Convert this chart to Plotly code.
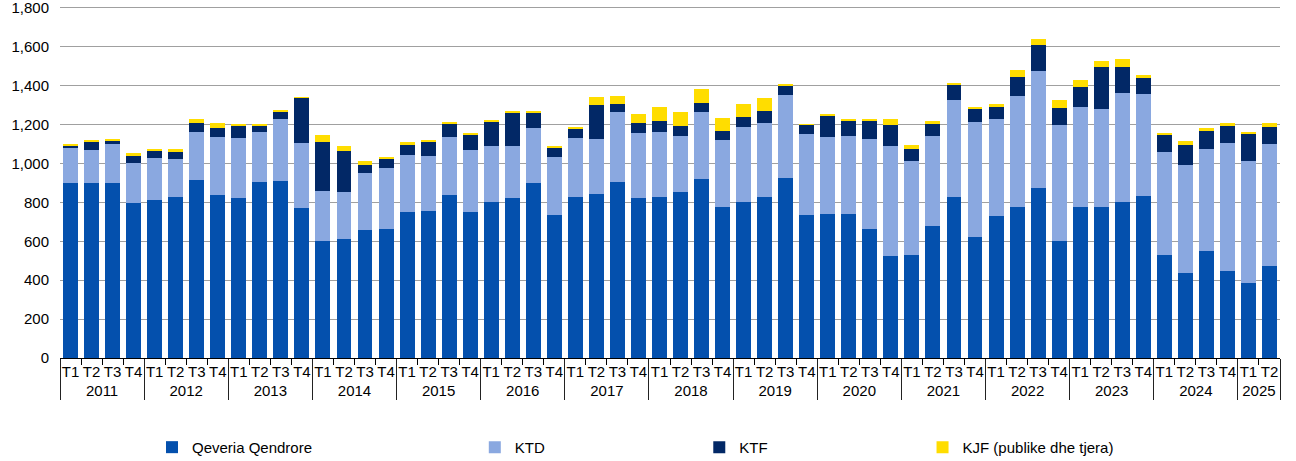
import plotly.graph_objects as go

years = [str(y) for y in range(2011, 2026)]
quarters = ["T1", "T2", "T3", "T4"]

x_years = []
x_quarters = []
for y in years:
    for q in quarters:
        if y == "2025" and q in ("T3", "T4"):
            continue
        x_years.append(y)
        x_quarters.append(q)

qeveria_qendrore = [902, 902, 902, 795, 815, 826, 916, 836, 821, 906, 911, 771,
                    603, 610, 658, 662, 750, 756, 838, 750, 800, 821, 902, 733,
                    829, 843, 906, 824, 829, 855, 923, 778, 803, 829, 928, 733,
                    738, 738, 665, 523, 528, 680, 827, 624, 730, 779, 872, 603,
                    778, 778, 800, 832, 528, 438, 550, 446, 386, 472]
ktd = [180, 170, 199, 208, 214, 198, 245, 302, 311, 255, 318, 332,
       257, 245, 292, 317, 296, 283, 297, 318, 291, 270, 279, 299,
       304, 283, 359, 333, 335, 289, 342, 345, 387, 380, 426, 417,
       397, 404, 460, 568, 486, 460, 498, 590, 501, 568, 602, 594,
       513, 501, 561, 525, 532, 555, 527, 658, 628, 627]
ktf = [12, 43, 17, 38, 34, 36, 48, 47, 65, 36, 41, 234,
       251, 210, 40, 42, 51, 74, 70, 81, 124, 171, 81, 50,
       46, 177, 43, 52, 57, 51, 48, 46, 51, 63, 48, 52,
       111, 79, 97, 109, 63, 65, 80, 66, 61, 97, 133, 90,
       104, 218, 133, 84, 85, 104, 92, 91, 140, 91]
kjf = [5, 5, 3, 14, 14, 17, 20, 22, 2, 5, 5, 5,
       34, 26, 24, 13, 14, 3, 4, 3, 4, 10, 10, 7,
       6, 39, 39, 46, 70, 68, 68, 65, 65, 65, 3, 1,
       4, 8, 2, 29, 19, 14, 10, 11, 12, 36, 34, 39,
       36, 28, 43, 14, 12, 21, 14, 14, 10, 19]

series_names = ["Qeveria Qendrore", "KTD", "KTF", "KJF (publike dhe tjera)"]
series_values = [qeveria_qendrore, ktd, ktf, kjf]
colors = ["#0450AD", "#8AA8E0", "#022866", "#FFDD00"]
legend_ids = ["legend", "legend2", "legend3", "legend4"]

FONT = "Liberation Sans, Arial, sans-serif"

fig = go.Figure()
for name, vals, col, lg in zip(series_names, series_values, colors, legend_ids):
    fig.add_trace(go.Bar(
        x=[x_years, x_quarters], y=vals, name=name,
        marker=dict(color=col, line=dict(width=0)),
        legend=lg,
    ))

# legend positions in paper coordinates (plot spans 60..1280 px)
leg_x = [0.0754, 0.340, 0.524, 0.707]
leg_common = dict(y=-0.254, yanchor="middle", xanchor="left",
                  orientation="h", bgcolor="rgba(0,0,0,0)",
                  font=dict(family=FONT, size=15, color="#000000"))
layout_legends = {}
for lg, lx in zip(legend_ids, leg_x):
    layout_legends[lg] = dict(x=lx, **leg_common)

fig.update_layout(
    barmode="stack",
    bargap=0.29,
    width=1296, height=461,
    margin=dict(l=60, r=16, t=6, b=103, autoexpand=False),
    paper_bgcolor="white", plot_bgcolor="white",
    font=dict(family=FONT, size=15, color="#000000"),
    showlegend=True,
    **layout_legends,
)
fig.update_xaxes(
    type="multicategory",
    showline=True, linecolor="#000000", linewidth=1,
    ticks="outside", ticklen=6, tickcolor="#000000", tickwidth=1,
    showdividers=True, dividercolor="#222222", dividerwidth=1,
    tickangle=0, automargin=False,
    tickfont=dict(family=FONT, size=15, color="#000000"),
    showgrid=False,
)
fig.update_yaxes(
    range=[0, 1810], tickvals=list(range(0, 1801, 200)), tickformat=",",
    showgrid=True, gridcolor="#A0A0A0", gridwidth=1,
    zeroline=False, showline=False, ticks="",
    ticklabelstandoff=10, automargin=False, ticklabeloverflow="allow",
    tickfont=dict(family=FONT, size=15, color="#000000"),
)

fig.write_html("out.html", config={"displayModeBar": False},
               post_script="document.body.style.margin='0px';")
